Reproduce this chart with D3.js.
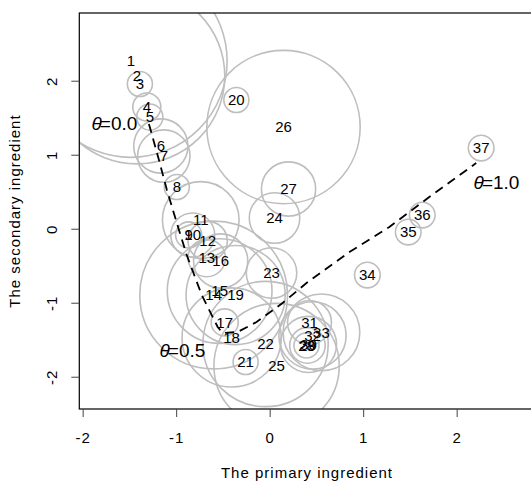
<!DOCTYPE html>
<html>
<head>
<meta charset="utf-8">
<script src="https://cdn.jsdelivr.net/npm/d3@7"></script>
<style>
  body { margin: 0; background: #fff; }
  text { font-family: "Liberation Sans", Arial, sans-serif; }
</style>
</head>
<body>
<svg></svg>
<script>
// points: ids, coordinates and circle radius (in x units, like symbols(inches=FALSE))
var ids = [1,2,3,4,5,6,7,8,9,10,11,12,13,14,15,16,17,18,19,20,21,22,23,24,25,26,27,28,29,30,31,32,33,34,35,36,37];
var pointX = [-1.485,-1.420,-1.388,-1.314,-1.282,-1.164,-1.132,-0.993,-0.866,-0.823,-0.737,-0.663,-0.673,-0.599,-0.535,-0.524,-0.481,-0.407,-0.364,-0.356,-0.257,-0.044,0.020,0.052,0.074,0.148,0.202,0.394,0.404,0.415,0.426,0.458,0.554,1.045,1.482,1.632,2.262];
var pointY = [2.266,2.064,1.955,1.645,1.509,1.118,0.982,0.564,-0.085,-0.085,0.118,-0.166,-0.396,-0.896,-0.842,-0.436,-1.266,-1.469,-0.896,1.739,-1.801,-1.558,-0.599,0.145,-1.855,1.374,0.537,-1.577,-1.577,-1.563,-1.266,-1.442,-1.401,-0.626,-0.045,0.185,1.090];
var radius = [1.03,0.94,0.134,0.15,0.14,0.29,0.28,0.134,0.14,0.235,0.41,0.21,0.20,0.79,0.56,0.29,0.145,0.53,0.53,0.134,0.134,0.67,0.27,0.27,0.67,0.82,0.29,0.134,0.19,0.30,0.235,0.36,0.41,0.137,0.137,0.137,0.137];

// the fitted curve, theta from 0 to 1
var curveX = [-1.292,-1.282,-1.184,-1.099,-0.993,-0.887,-0.727,-0.556,-0.503,-0.343,-0.140,0.138,0.394,0.853,1.280,1.707,2.209];
var curveY = [1.414,1.374,0.928,0.523,0.077,-0.355,-0.895,-1.328,-1.409,-1.396,-1.261,-1.004,-0.734,-0.315,0.023,0.428,0.888];

var thetaLabels = ["0.0", "0.5", "1.0"];
var thetaX = [-1.905, -1.178, 2.181];
var thetaY = [1.428, -1.639, 0.631];

var xTicks = [-2, -1, 0, 1, 2];
var yTicks = [-2, -1, 0, 1, 2];

var width = 531, height = 483;
var plot = { left: 79.3, right: 535.2, top: 13, bottom: 409 };

var svg = d3.select('svg').attr('width', width).attr('height', height);

var x = d3.scaleLinear().domain([-2.036, 2.84]).range([plot.left, plot.right]);
var y = d3.scaleLinear().domain([-2.436, 2.915]).range([plot.bottom, plot.top]);

svg.append('clipPath').attr('id', 'clip')
  .append('rect')
    .attr('x', plot.left).attr('y', plot.top)
    .attr('width', plot.right - plot.left).attr('height', plot.bottom - plot.top);

var points = ids.map(function (id, i) {
  return { id: id, x: pointX[i], y: pointY[i], r: radius[i] };
});

// circles
svg.append('g')
  .attr('clip-path', 'url(#clip)')
  .selectAll('circle')
  .data(points)
  .enter().append('circle')
    .attr('cx', function (d) { return x(d.x) })
    .attr('cy', function (d) { return y(d.y) })
    .attr('r', function (d) { return x(d.r) - x(0) })
    .attr('fill', 'none')
    .attr('stroke', '#bebebe')
    .attr('stroke-width', 1.6);

// point labels
svg.append('g')
  .selectAll('text')
  .data(points)
  .enter().append('text')
    .attr('x', function (d) { return x(d.x) })
    .attr('y', function (d) { return y(d.y) })
    .attr('dy', '0.36em')
    .attr('text-anchor', 'middle')
    .attr('font-size', 15)
    .attr('fill', '#000')
    .text(function (d) { return d.id });

// dashed curve
var line = d3.line()
  .x(function (d) { return x(d[0]) })
  .y(function (d) { return y(d[1]) });

svg.append('path')
  .datum(curveX.map(function (v, i) { return [v, curveY[i]] }))
  .attr('d', line)
  .attr('fill', 'none')
  .attr('stroke', '#000')
  .attr('stroke-width', 1.8)
  .attr('stroke-dasharray', '9,6');

// theta labels
var th = svg.append('g')
  .selectAll('text')
  .data(thetaLabels)
  .enter().append('text')
    .attr('x', function (d, i) { return x(thetaX[i]) })
    .attr('y', function (d, i) { return y(thetaY[i]) })
    .attr('dy', '0.35em')
    .attr('font-family', '"Liberation Serif", "Times New Roman", serif')
    .attr('font-size', 19)
    .attr('fill', '#000');
th.append('tspan').attr('font-style', 'italic').text('\u03b8');
th.append('tspan').attr('dx', -2).text(function (d) { return '=' + d });

// frame
svg.append('rect')
  .attr('x', plot.left).attr('y', plot.top)
  .attr('width', plot.right - plot.left).attr('height', plot.bottom - plot.top)
  .attr('fill', 'none')
  .attr('stroke', '#000')
  .attr('stroke-width', 1.2);

// axes
var xAxis = svg.append('g')
  .attr('transform', 'translate(0,' + plot.bottom + ')')
  .call(d3.axisBottom(x).tickValues(xTicks).tickSize(8).tickSizeOuter(0).tickPadding(15)
    .tickFormat(function (d) { return String(d) }));
xAxis.select('.domain').remove();
xAxis.selectAll('line').attr('stroke', '#444');
xAxis.selectAll('text')
  .attr('font-size', 15).attr('letter-spacing', 1)
  .attr('font-family', '"Liberation Sans", Arial, sans-serif')
  .attr('fill', '#000');

var yAxis = svg.append('g')
  .attr('transform', 'translate(' + plot.left + ',0)')
  .call(d3.axisLeft(y).tickValues(yTicks).tickSize(8).tickSizeOuter(0)
    .tickFormat(function (d) { return String(d) }));
yAxis.select('.domain').remove();
yAxis.selectAll('line').attr('stroke', '#444');
yAxis.selectAll('text')
  .attr('x', 0).attr('dy', 0)
  .attr('text-anchor', 'middle')
  .attr('transform', 'translate(' + (57 - plot.left) + ',0) rotate(-90)')
  .attr('font-size', 15).attr('letter-spacing', 1)
  .attr('font-family', '"Liberation Sans", Arial, sans-serif')
  .attr('fill', '#000');

// axis titles
svg.append('text')
  .attr('x', 307).attr('y', 478)
  .attr('text-anchor', 'middle')
  .attr('font-size', 15).attr('letter-spacing', 1)
  .text('The primary ingredient');

svg.append('text')
  .attr('transform', 'translate(20,211) rotate(-90)')
  .attr('text-anchor', 'middle')
  .attr('font-size', 15).attr('letter-spacing', 1)
  .text('The secondary ingredient');
</script>
</body>
</html>
